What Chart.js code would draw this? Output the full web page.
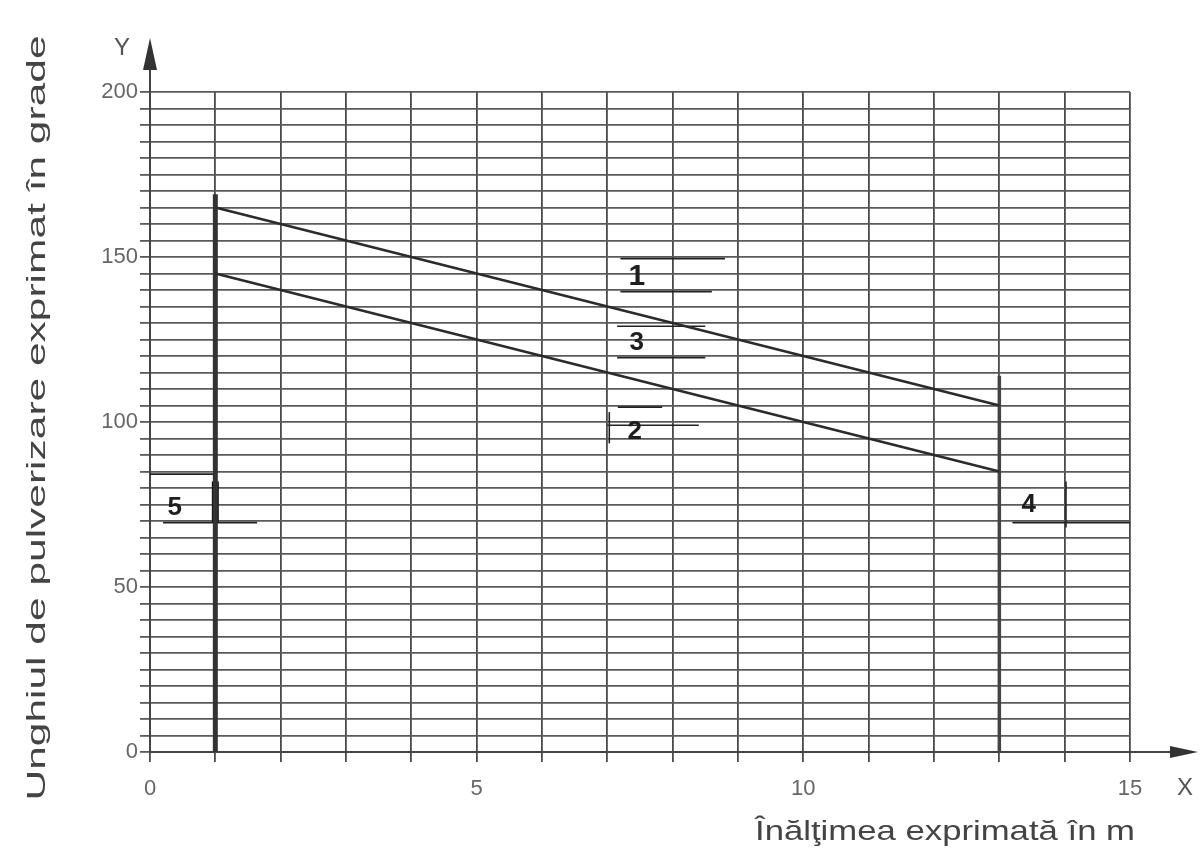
<!DOCTYPE html>
<html>
<head>
<meta charset="utf-8">
<script src="https://cdn.jsdelivr.net/npm/chart.js@4/dist/chart.umd.min.js"></script>
<style>
  html, body { margin: 0; padding: 0; background: #fff; }
  #wrap { width: 1200px; height: 854px; }
</style>
</head>
<body>
<div id="wrap"><canvas id="unghiChart"></canvas></div>
<script>
// Date
const inaltimi = [1, 13];            // capetele dreptelor (m)
const curba1 = [165, 105];          // unghi maxim (grade)
const curba2 = [145, 85];           // unghi minim (grade)
const limitaMin = [1, 169];         // verticala la 1 m, pana la 169 grade
const limitaMax = [13, 114];        // verticala la 13 m, pana la 114 grade
const reperMarcaj = [1, 69.5, 82];  // segmentul gros de langa eticheta 5

// Etichete numerotate si liniile lor de reper
const etichete = ['1', '3', '2', '4', '5'];
const etichetaX = [7.45, 7.45, 7.42, 13.45, 0.38];
const etichetaY = [144, 124, 97, 75, 74];
const repere = [
    [7.2, 149.5, 8.8, 149.5], [7.2, 139.5, 8.6, 139.5],
    [7.15, 129, 8.5, 129], [7.15, 119.5, 8.5, 119.5],
    [7.16, 104.5, 7.84, 104.5], [7.0, 99, 8.4, 99], [7.03, 93.5, 7.03, 103],
    [14.02, 68, 14.02, 82], [13.2, 69.5, 15, 69.5],
    [0, 84.2, 1, 84.2], [0.2, 69.5, 1.64, 69.5]
];

const titluX = 'Înălţimea exprimată în m';
const titluY = 'Unghiul de pulverizare exprimat în grade';

// Datasets
const seturi = [
    {
        data: inaltimi.map((h, i) => ({ x: h, y: curba1[i] })),
        borderColor: '#2b2b2b', borderWidth: 2.6
    },
    {
        data: inaltimi.map((h, i) => ({ x: h, y: curba2[i] })),
        borderColor: '#2b2b2b', borderWidth: 2.6
    },
    {
        data: [{ x: limitaMin[0], y: 0 }, { x: limitaMin[0], y: limitaMin[1] }],
        borderColor: '#333', borderWidth: 5
    },
    {
        data: [{ x: limitaMax[0], y: 0 }, { x: limitaMax[0], y: limitaMax[1] }],
        borderColor: '#444', borderWidth: 3.5
    },
    {
        data: [{ x: reperMarcaj[0], y: reperMarcaj[1] }, { x: reperMarcaj[0], y: reperMarcaj[2] }],
        borderColor: '#111', borderWidth: 7
    }
];
repere.forEach(r => {
    seturi.push({
        data: [{ x: r[0], y: r[1] }, { x: r[2], y: r[3] }],
        borderColor: '#222', borderWidth: 1.6
    });
});
seturi.forEach(s => {
    s.showLine = true;
    s.pointRadius = 0;
    s.clip = false;
});

// Sageti, etichete si titluri
const decor = {
    id: 'decor',
    afterDatasetsDraw(chart) {
        const { ctx, chartArea: a, scales: { x, y } } = chart;
        ctx.save();
        ctx.strokeStyle = '#444';
        ctx.fillStyle = '#333';
        ctx.lineWidth = 2;
        // axa Y prelungita + sageata
        ctx.beginPath();
        ctx.moveTo(a.left, a.top);
        ctx.lineTo(a.left, a.top - 26);
        ctx.stroke();
        ctx.beginPath();
        ctx.moveTo(a.left, a.top - 54);
        ctx.lineTo(a.left - 7, a.top - 22);
        ctx.lineTo(a.left + 7, a.top - 22);
        ctx.closePath();
        ctx.fill();
        // axa X prelungita + sageata
        ctx.beginPath();
        ctx.moveTo(a.right, a.bottom);
        ctx.lineTo(a.right + 42, a.bottom);
        ctx.stroke();
        ctx.beginPath();
        ctx.moveTo(a.right + 68, a.bottom);
        ctx.lineTo(a.right + 40, a.bottom - 6);
        ctx.lineTo(a.right + 40, a.bottom + 6);
        ctx.closePath();
        ctx.fill();

        // numerele de reper
        ctx.fillStyle = '#1e1e1e';
        ctx.textAlign = 'center';
        ctx.textBaseline = 'middle';
        etichete.forEach((t, i) => {
            ctx.font = (t === '1' ? 'bold 30px' : 'bold 26px') + ' "Liberation Sans", Arial, sans-serif';
            ctx.fillText(t, x.getPixelForValue(etichetaX[i]), y.getPixelForValue(etichetaY[i]));
        });

        // literele X si Y
        ctx.fillStyle = '#555';
        ctx.font = '24px "Liberation Sans", Arial, sans-serif';
        ctx.fillText('Y', a.left - 28, a.top - 44);
        ctx.fillText('X', a.right + 55, a.bottom + 36);

        // titlurile axelor (intinse pe lungimea din original)
        ctx.font = '28px "Liberation Sans", Arial, sans-serif';
        ctx.fillStyle = '#444';
        ctx.save();
        ctx.translate(945, 832);
        ctx.scale(380 / ctx.measureText(titluX).width, 1);
        ctx.fillText(titluX, 0, 0);
        ctx.restore();

        ctx.font = '26px "Liberation Sans", Arial, sans-serif';
        ctx.save();
        ctx.translate(38, 418);
        ctx.rotate(-Math.PI / 2);
        ctx.scale(765 / ctx.measureText(titluY).width, 1);
        ctx.fillText(titluY, 0, 0);
        ctx.restore();

        ctx.restore();
    }
};

function createUnghiChart() {
    const ctx = document.getElementById('unghiChart').getContext('2d');
    new Chart(ctx, {
        type: 'scatter',
        data: { datasets: seturi },
        options: {
            responsive: true,
            maintainAspectRatio: false,
            animation: false,
            events: [],
            layout: { padding: { top: 92, right: 70, left: 0, bottom: 0 } },
            plugins: {
                legend: { display: false },
                tooltip: { enabled: false }
            },
            scales: {
                x: {
                    type: 'linear',
                    min: 0,
                    max: 15,
                    afterFit: s => { s.height = 102; },
                    ticks: {
                        stepSize: 1,
                        autoSkip: false,
                        maxRotation: 0,
                        padding: 14,
                        color: '#666',
                        font: { family: '"Liberation Sans", Arial, sans-serif', size: 22 },
                        callback: v => (v % 5 === 0 ? String(v) : '')
                    },
                    grid: { color: '#4a4a4a', lineWidth: 1.8, tickLength: 10 },
                    border: { color: '#444', width: 2 }
                },
                y: {
                    type: 'linear',
                    min: 0,
                    max: 200,
                    afterFit: s => { s.width = 150; },
                    ticks: {
                        stepSize: 5,
                        autoSkip: false,
                        padding: 2,
                        color: '#666',
                        font: { family: '"Liberation Sans", Arial, sans-serif', size: 22 },
                        callback: v => (v % 50 === 0 ? String(v) : '')
                    },
                    grid: { color: '#5a5a5a', lineWidth: 1.8, tickLength: 10 },
                    border: { color: '#444', width: 2 }
                }
            }
        },
        plugins: [decor]
    });
}

document.addEventListener('DOMContentLoaded', createUnghiChart);
</script>
</body>
</html>
